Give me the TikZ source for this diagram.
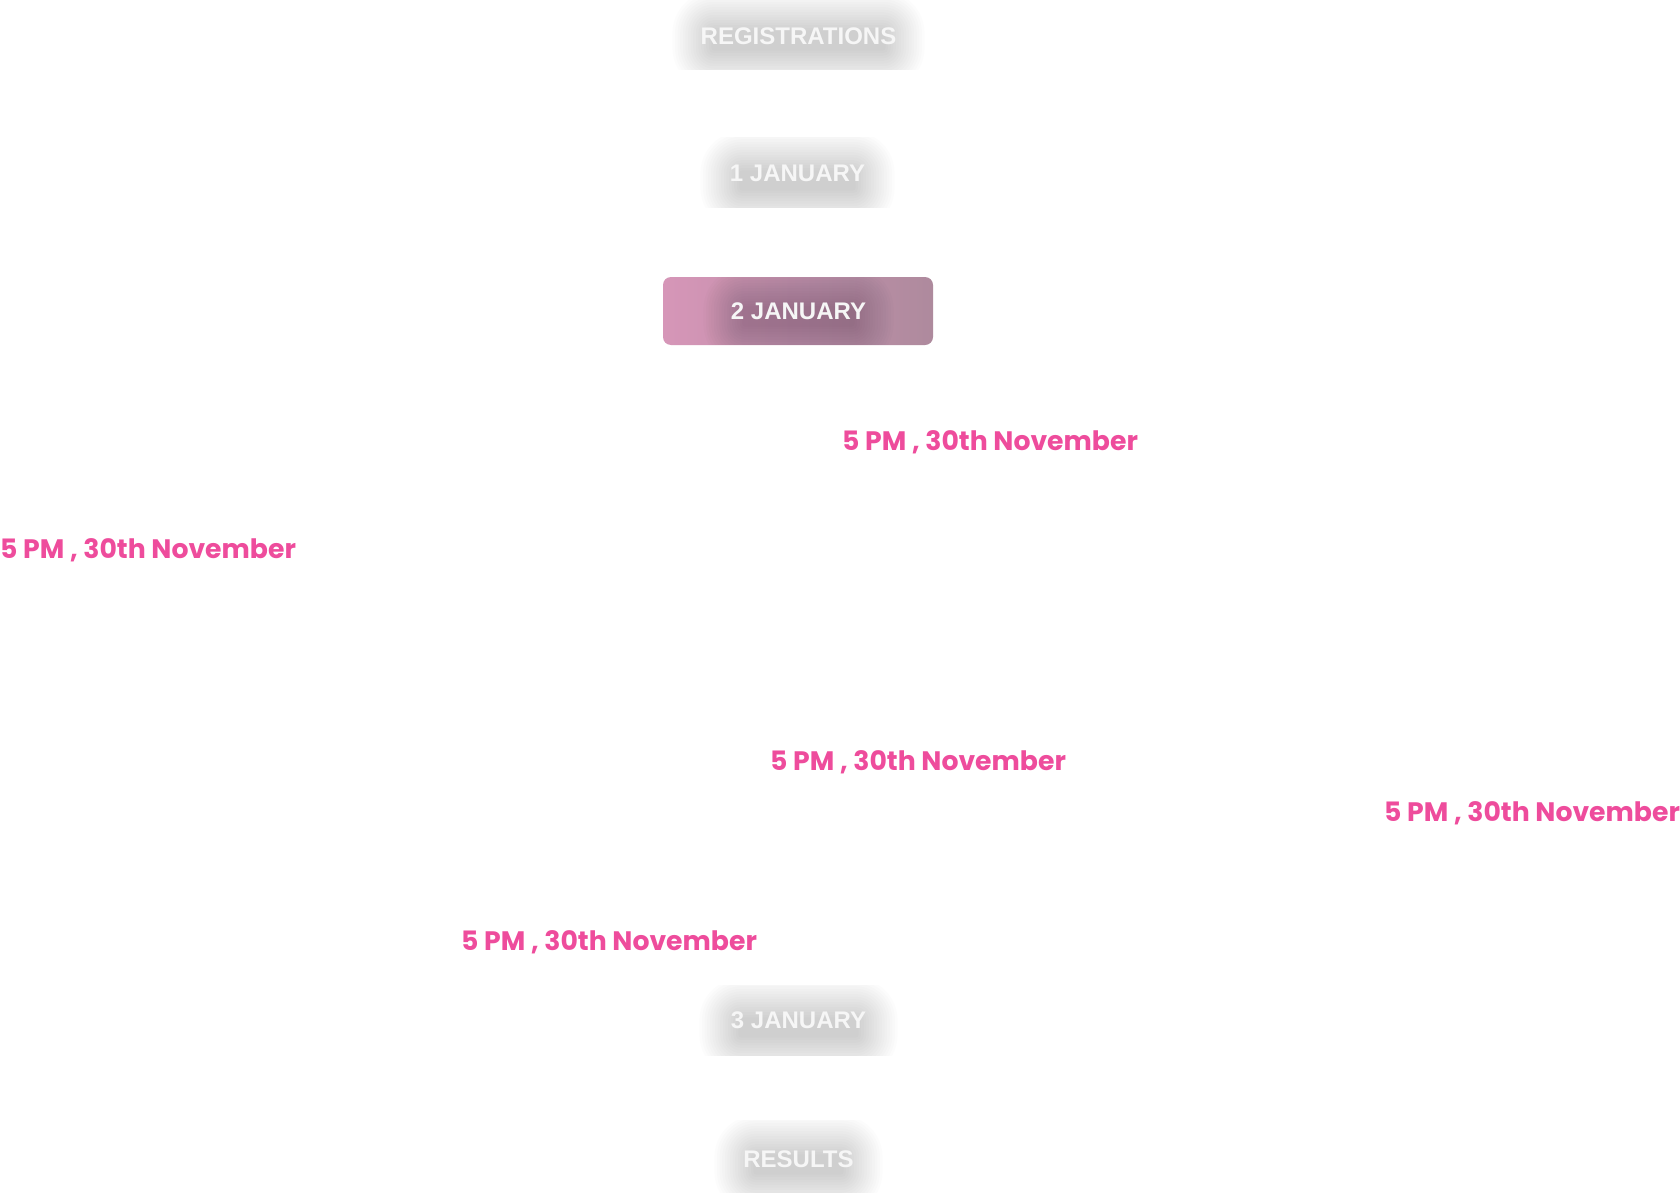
\documentclass[tikz,border=0pt]{standalone}
\usepackage{fontspec}
\newfontfamily\labfont{Liberation Sans}
\newfontfamily\pinkfont{Poppins}
\definecolor{pinktxt}{RGB}{238,76,156}
\definecolor{labtxt}{RGB}{246,246,246}
\definecolor{boxleft}{RGB}{214,150,184}
\definecolor{boxright}{RGB}{174,138,157}
\newcommand\txtglow[5]{%
  \foreach \k in {1,...,16}{%
    \pgfmathsetmacro\rr{2.6*\k}%
    \fill[black, fill opacity=#5, rounded corners=\rr pt] (#1-\rr,#2-\rr) rectangle (#3+\rr,#4+\rr);
  }%
}
\tikzset{
  lab/.style={anchor=base, text=labtxt, inner sep=0pt, font=\labfont\bfseries\fontsize{24}{28}\selectfont},
  when/.style={anchor=base west, text=pinktxt, inner sep=0pt, font=\pinkfont\bfseries\fontsize{26.7}{31}\selectfont},
}
\begin{document}
\begin{tikzpicture}[x=1pt,y=-1pt]
\useasboundingbox (0,0) rectangle (1680,1193);
\fill[white] (0,0) rectangle (1680,1193);
% glows
\begin{scope}
\clip (660,0) rectangle (940,70);
\txtglow{714}{33}{883}{48}{0.011}
\end{scope}
\begin{scope}
\clip (670,138) rectangle (925,207);
\txtglow{742}{173}{853}{188}{0.011}
\end{scope}
\begin{scope}
\clip (670,985) rectangle (925,1055);
\txtglow{741}{1020}{856}{1035}{0.011}
\end{scope}
\begin{scope}
\clip (680,1120) rectangle (915,1193);
\txtglow{756}{1157}{841}{1172}{0.011}
\end{scope}
% highlighted box
\shade[left color=boxleft, right color=boxright, rounded corners=8pt] (663,277) rectangle (933,345);
\begin{scope}
\clip[rounded corners=8pt] (663,277) rectangle (933,345);
\txtglow{745}{309}{852}{324}{0.012}
\end{scope}
% labels
\node[lab] (reg) at (798.5,45) {REGISTRATIONS};
\node[lab] (jan1) at (797.5,182) {1 JANUARY};
\node[lab] (jan2) at (798.5,319) {2 JANUARY};
\node[lab] (jan3) at (798.5,1028) {3 JANUARY};
\node[lab] (res) at (798.5,1167) {RESULTS};
% times
\node[when] (t1) at (842,450) {5 PM , 30th November};
\node[when] (t2) at (0,558) {5 PM , 30th November};
\node[when] (t3) at (770,770) {5 PM , 30th November};
\node[when] (t4) at (1384,821) {5 PM , 30th November};
\node[when] (t5) at (461,950) {5 PM , 30th November};
\end{tikzpicture}
\end{document}
